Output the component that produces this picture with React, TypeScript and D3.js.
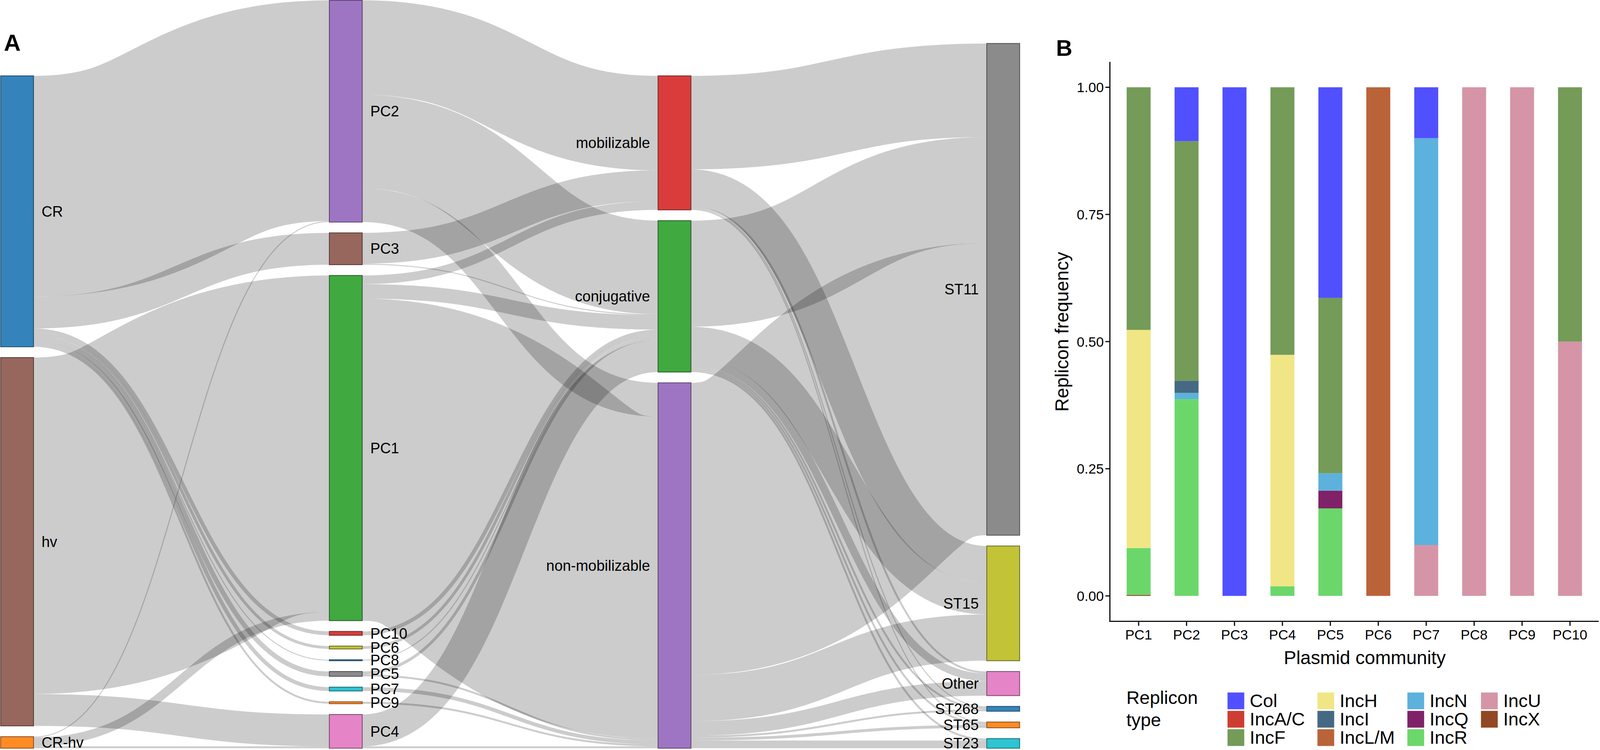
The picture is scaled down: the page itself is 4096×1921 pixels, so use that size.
import React from "react";
import * as d3 from "d3";

// reference is 4961 x 2327, everything is drawn in those units and scaled down
const SCALE = 0.825;
const FONT = '"Liberation Sans", Arial, Helvetica, sans-serif';

// ---------------- panel A: alluvial flows ----------------
const ORIGINS = ["CR", "hv", "CR-hv"];
const COMMUNITIES = ["PC2", "PC3", "PC1", "PC10", "PC6", "PC8", "PC5", "PC7", "PC9", "PC4"];
const MOBILITY = ["mobilizable", "conjugative", "non-mobilizable"];
const SEQ_TYPES = ["ST11", "ST15", "Other", "ST268", "ST65", "ST23"];

type LinkRow = [string, string, number];

const ORIGIN_TO_PC: LinkRow[] = [
  ["CR", "PC2", 229], ["CR", "PC3", 33],
  ["CR", "PC10", 4], ["CR", "PC6", 3], ["CR", "PC8", 1], ["CR", "PC5", 5], ["CR", "PC7", 4], ["CR", "PC9", 2],
  ["hv", "PC1", 349], ["hv", "PC4", 33],
  ["CR-hv", "PC2", 1], ["CR-hv", "PC1", 9], ["CR-hv", "PC4", 2],
];

const PC_TO_MOBILITY: LinkRow[] = [
  ["PC2", "mobilizable", 98], ["PC2", "conjugative", 97], ["PC2", "non-mobilizable", 35],
  ["PC3", "mobilizable", 32], ["PC3", "conjugative", 1],
  ["PC1", "mobilizable", 9], ["PC1", "conjugative", 15], ["PC1", "non-mobilizable", 334],
  ["PC10", "conjugative", 4], ["PC6", "conjugative", 3], ["PC8", "conjugative", 1],
  ["PC5", "conjugative", 3], ["PC5", "non-mobilizable", 2],
  ["PC7", "non-mobilizable", 4], ["PC9", "non-mobilizable", 2],
  ["PC4", "conjugative", 33], ["PC4", "non-mobilizable", 2],
];

const MOBILITY_TO_ST: LinkRow[] = [
  ["mobilizable", "ST11", 97], ["mobilizable", "ST15", 38], ["mobilizable", "Other", 2],
  ["mobilizable", "ST268", 1], ["mobilizable", "ST65", 1],
  ["conjugative", "ST11", 110], ["conjugative", "ST15", 33], ["conjugative", "Other", 8],
  ["conjugative", "ST268", 2], ["conjugative", "ST65", 2], ["conjugative", "ST23", 2],
  ["non-mobilizable", "ST11", 303], ["non-mobilizable", "ST15", 48], ["non-mobilizable", "Other", 15],
  ["non-mobilizable", "ST268", 2], ["non-mobilizable", "ST65", 3], ["non-mobilizable", "ST23", 8],
];

// category10 slot of each node
const cat10 = d3.schemeCategory10;
const NODE_COLOUR: Record<string, string> = {
  CR: cat10[0], "CR-hv": cat10[1], hv: cat10[5],
  PC1: cat10[2], PC2: cat10[4], PC3: cat10[5], PC4: cat10[6], PC5: cat10[7],
  PC6: cat10[8], PC7: cat10[9], PC8: cat10[0], PC9: cat10[1], PC10: cat10[3],
  mobilizable: cat10[3], conjugative: cat10[2], "non-mobilizable": cat10[4],
  ST11: cat10[7], ST15: cat10[8], Other: cat10[6], ST268: cat10[0], ST65: cat10[1], ST23: cat10[9],
};

// ---------------- panel B: replicon frequencies ----------------
const PCS = ["PC1", "PC2", "PC3", "PC4", "PC5", "PC6", "PC7", "PC8", "PC9", "PC10"];
const REPLICONS = ["Col", "IncA/C", "IncF", "IncH", "IncI", "IncL/M", "IncN", "IncQ", "IncR", "IncU", "IncX"];
const REPLICON_COLOURS = ["#5050FF", "#CE3D32", "#749B58", "#F0E685", "#466983", "#BA6338",
  "#5DB1DD", "#802268", "#6BD76B", "#D595A7", "#924822"];

const FREQ_COL = [0, 0.106, 1, 0, 0.414, 0, 0.1, 0, 0, 0];
const FREQ_INCAC = [0, 0, 0, 0, 0, 0, 0, 0, 0, 0];
const FREQ_INCF = [0.477, 0.471, 0, 0.526, 0.345, 0, 0, 0, 0, 0.5];
const FREQ_INCH = [0.429, 0, 0, 0.455, 0, 0, 0, 0, 0, 0];
const FREQ_INCI = [0, 0.024, 0, 0, 0, 0, 0, 0, 0, 0];
const FREQ_INCLM = [0, 0, 0, 0, 0, 1, 0, 0, 0, 0];
const FREQ_INCN = [0, 0.012, 0, 0, 0.034, 0, 0.8, 0, 0, 0];
const FREQ_INCQ = [0, 0, 0, 0, 0.035, 0, 0, 0, 0, 0];
const FREQ_INCR = [0.092, 0.387, 0, 0.019, 0.172, 0, 0, 0, 0, 0];
const FREQ_INCU = [0, 0, 0, 0, 0, 0, 0.1, 1, 1, 0.5];
const FREQ_INCX = [0.002, 0, 0, 0, 0, 0, 0, 0, 0, 0];

const Y_TICKS = [0, 0.25, 0.5, 0.75, 1];

const FREQS = [FREQ_COL, FREQ_INCAC, FREQ_INCF, FREQ_INCH, FREQ_INCI, FREQ_INCLM,
  FREQ_INCN, FREQ_INCQ, FREQ_INCR, FREQ_INCU, FREQ_INCX];

// ---------------- sankey layout ----------------
interface SNode {
  name: string; col: number; value: number;
  x0: number; x1: number; y0: number; y1: number;
  sourceLinks: SLink[]; targetLinks: SLink[];
}
interface SLink { source: SNode; target: SNode; value: number; width: number; y0: number; y1: number; }

function sankeyLayout(columns: string[][], rows: LinkRow[], ext: number[][], nodeWidth: number, nodePadding: number) {
  const [[x0, y0], [x1, y1]] = ext;
  const byName = new Map<string, SNode>();
  columns.forEach((names, col) => names.forEach((name) => byName.set(name, {
    name, col, value: 0, x0: 0, x1: 0, y0: 0, y1: 0, sourceLinks: [], targetLinks: [],
  })));
  const links: SLink[] = rows.map(([s, t, v]) => {
    const l = { source: byName.get(s)!, target: byName.get(t)!, value: v, width: 0, y0: 0, y1: 0 };
    l.source.sourceLinks.push(l);
    l.target.targetLinks.push(l);
    return l;
  });
  byName.forEach((n) => {
    n.value = Math.max(d3.sum(n.sourceLinks, (l) => l.value), d3.sum(n.targetLinks, (l) => l.value));
  });
  const colNodes = columns.map((names) => names.map((n) => byName.get(n)!));
  const ky = d3.min(colNodes, (ns) => (y1 - y0 - (ns.length - 1) * nodePadding) / d3.sum(ns, (n) => n.value))!;
  const h = d3.scaleLinear().domain([0, 1]).range([0, ky]);
  const xCol = d3.scaleLinear().domain([0, columns.length - 1]).range([x0, x1 - nodeWidth]);

  // stack every column, justified to the bottom edge
  colNodes.forEach((ns, col) => {
    const total = d3.sum(ns, (n) => h(n.value)) + (ns.length - 1) * nodePadding;
    let y = y1 - total;
    ns.forEach((n) => {
      n.x0 = xCol(col); n.x1 = n.x0 + nodeWidth;
      n.y0 = y; n.y1 = y + h(n.value);
      y = n.y1 + nodePadding;
    });
  });
  links.forEach((l) => { l.width = h(l.value); });
  byName.forEach((n) => {
    n.sourceLinks.sort((a, b) => a.target.y0 - b.target.y0);
    n.targetLinks.sort((a, b) => a.source.y0 - b.source.y0);
    let sy = n.y0;
    n.sourceLinks.forEach((l) => { l.y0 = sy + l.width / 2; sy += l.width; });
    let ty = n.y0;
    n.targetLinks.forEach((l) => { l.y1 = ty + l.width / 2; ty += l.width; });
  });
  return { nodes: [...byName.values()], links };
}

let ctx: CanvasRenderingContext2D | null = null;
function textWidth(s: string, size: number) {
  if (!ctx && typeof document !== "undefined") ctx = document.createElement("canvas").getContext("2d");
  if (!ctx) return s.length * size * 0.55;
  ctx.font = `${size}px ${FONT}`;
  return ctx.measureText(s).width;
}

const PanelA = () => {
  const { nodes, links } = sankeyLayout(
    [ORIGINS, COMMUNITIES, MOBILITY, SEQ_TYPES],
    [...ORIGIN_TO_PC, ...PC_TO_MOBILITY, ...MOBILITY_TO_ST],
    [[2, 1], [3164, 2323]], 102, 33.5,
  );
  const linkPath = d3.linkHorizontal<any, [number, number]>();

  return (
    <g>
      <text x={12} y={158} fontSize={72} fontWeight="bold" fontFamily={FONT}>A</text>
      <g fill="none" stroke="#000" strokeOpacity={0.2}>
        {links.map((l, i) => (
          <path key={i}
            d={linkPath({ source: [l.source.x1, l.y0], target: [l.target.x0, l.y1] }) || ""}
            strokeWidth={Math.max(1, l.width)} />
        ))}
      </g>
      {nodes.map((n) => (
        <rect key={n.name} x={n.x0} y={n.y0} width={n.x1 - n.x0} height={Math.max(1, n.y1 - n.y0)}
          fill={NODE_COLOUR[n.name]} stroke={d3.rgb(NODE_COLOUR[n.name]).darker(2).toString()}
          strokeWidth={2.5} opacity={0.9} />
      ))}
      {nodes.map((n) => {
        const right = n.col < 2;
        return (
          <text key={"t" + n.name} x={right ? n.x1 + 25 : n.x0 - 25} y={(n.y0 + n.y1) / 2} dy="0.35em"
            textAnchor={right ? "start" : "end"} fontSize={46} fontFamily={FONT}>{n.name}</text>
        );
      })}
    </g>
  );
};

const PanelB = () => {
  const left = 3444, right = 4961, top = 192, bottom = 1929;
  const x = d3.scalePoint<string>().domain(PCS).range([left, right]).padding(0.6);
  const barW = x.step() * 0.5;
  const y = d3.scaleLinear().domain([-0.05, 1.05]).range([bottom, top]);
  const fmt = d3.format(".2f");

  const table = PCS.map((pc, i) => {
    const row: Record<string, any> = { pc };
    REPLICONS.forEach((r, k) => { row[r] = FREQS[k][i]; });
    return row;
  });
  // first level sits on top of each bar, as in ggplot
  const series = d3.stack<any>().keys([...REPLICONS].reverse())(table);
  const colour = d3.scaleOrdinal<string, string>().domain(REPLICONS).range(REPLICON_COLOURS);

  // legend: 3 rows, filled column-wise
  const keySize = 52, rowStep = 57, legendTop = 2150, legendFont = 57;
  const nCols = Math.ceil(REPLICONS.length / 3);
  const colX: number[] = [3809];
  for (let c = 1; c < nCols; c++) {
    const widest = d3.max(REPLICONS.slice((c - 1) * 3, c * 3), (s) => textWidth(s, legendFont))!;
    colX.push(colX[c - 1] + keySize + 17 + widest + 39);
  }

  return (
    <g fontFamily={FONT}>
      <text x={3277} y={173} fontSize={70} fontWeight="bold">B</text>
      {series.map((s) => (
        <g key={s.key} fill={colour(s.key)}>
          {s.map((d, i) => (d[1] - d[0] > 0 ? (
            <rect key={i} x={x(PCS[i])! - barW / 2} width={barW} y={y(d[1])} height={y(d[0]) - y(d[1])} />
          ) : null))}
        </g>
      ))}
      <line x1={left} x2={left} y1={top} y2={bottom + 1.75} stroke="#000" strokeWidth={3.5} />
      <line x1={left - 1.75} x2={right} y1={bottom} y2={bottom} stroke="#000" strokeWidth={3.5} />
      {Y_TICKS.map((t) => (
        <g key={t}>
          <line x1={left - 14} x2={left} y1={y(t)} y2={y(t)} stroke="#000" strokeWidth={3.5} />
          <text x={left - 19} y={y(t)} dy="0.36em" textAnchor="end" fontSize={43}>{fmt(t)}</text>
        </g>
      ))}
      {PCS.map((pc) => (
        <g key={pc}>
          <line x1={x(pc)} x2={x(pc)} y1={bottom} y2={bottom + 14} stroke="#000" strokeWidth={3.5} />
          <text x={x(pc)} y={1986} textAnchor="middle" fontSize={43}>{pc}</text>
        </g>
      ))}
      <text transform={`translate(3315,1030) rotate(-90)`} textAnchor="middle" fontSize={58}>Replicon frequency</text>
      <text x={4235} y={2062} textAnchor="middle" fontSize={58}>Plasmid community</text>

      <text x={3495} y={2185} fontSize={legendFont}>Replicon</text>
      <text x={3495} y={2255} fontSize={legendFont}>type</text>
      {REPLICONS.map((r, i) => {
        const kx = colX[Math.floor(i / 3)];
        const ky = legendTop + (i % 3) * rowStep;
        return (
          <g key={r}>
            <rect x={kx} y={ky} width={keySize} height={keySize} fill={colour(r)} />
            <text x={kx + keySize + 17} y={ky + keySize / 2} dy="0.33em" fontSize={legendFont}>{r}</text>
          </g>
        );
      })}
    </g>
  );
};

export default function App() {
  return (
    <svg width={4096} height={1921} style={{ position: "absolute", left: 0, top: 0, background: "#fff" }}>
      <g transform={`scale(${SCALE})`}>
        <PanelA />
        <PanelB />
      </g>
    </svg>
  );
}
